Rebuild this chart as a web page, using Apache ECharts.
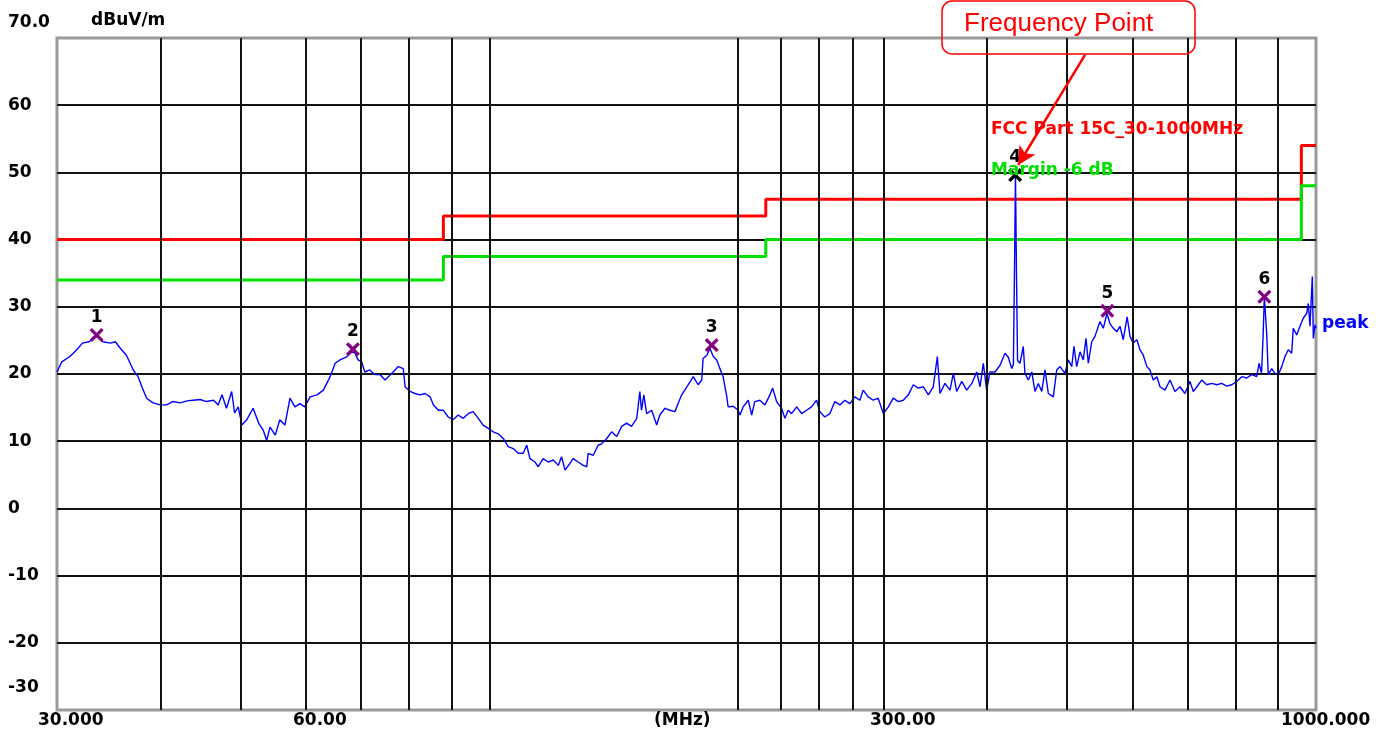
<!DOCTYPE html>
<html>
<head>
<meta charset="utf-8">
<title>FCC Part 15C radiated emission</title>
<script src="https://cdn.jsdelivr.net/npm/echarts@6/dist/echarts.min.js"></script>
<style>
    html, body { margin: 0; padding: 0; background: #fff; }
    #chart { width: 1386px; height: 737px; }
</style>
</head>
<body>
<div id="chart"></div>
<script>
// sweep (MHz) and peak level (dBuV/m)
var freqs = [
    30.0, 30.4, 31.1, 31.7, 32.2, 32.8, 33.5, 34.1, 34.8, 35.3, 35.8, 36.4, 37.1, 37.6, 38.0, 38.5, 39.2, 40.0, 40.7, 41.4,
    42.3, 43.1, 43.8, 44.7, 45.5, 46.4, 47.0, 47.5, 48.1, 48.8, 49.2, 49.7, 50.2, 50.9, 51.8, 52.6, 53.3, 53.8, 54.3, 55.1,
    55.8, 56.6, 57.4, 58.2, 59.0, 59.8, 60.7, 61.9, 63.0, 64.2, 65.1, 66.0, 67.3, 68.2, 68.8, 69.4, 70.1, 70.7, 71.7, 72.7,
    73.8, 74.8, 75.5, 76.5, 77.6, 78.7, 79.1, 80.2, 81.3, 82.4, 83.6, 84.8, 85.6, 86.8, 88.0, 89.2, 90.4, 91.7, 93.0, 94.3,
    95.6, 97.0, 98.3, 99.7, 101.1, 102.5, 104.0, 105.4, 106.9, 108.4, 109.9, 111.0, 112.0, 113.6, 114.6, 116.2, 117.8, 119.5, 121.2, 122.3,
    123.5, 125.2, 126.3, 128.1, 129.9, 131.2, 131.7, 133.6, 135.4, 136.8, 138.7, 140.6, 142.6, 144.6, 146.6, 148.6, 150.8, 152.1, 152.8, 153.8,
    155.0, 157.2, 159.4, 160.8, 163.1, 165.4, 167.7, 169.2, 170.9, 172.4, 174.0, 176.5, 178.9, 180.7, 181.4, 183.3, 184.9, 186.6, 188.4, 190.1,
    191.8, 193.8, 194.5, 197.3, 200.0, 201.0, 202.8, 205.7, 207.7, 209.5, 212.5, 215.5, 218.5, 220.2, 222.6, 225.7, 227.8, 229.9, 232.1, 235.4,
    238.7, 242.0, 245.4, 248.8, 251.1, 254.6, 258.2, 261.8, 265.5, 269.2, 273.0, 276.8, 280.7, 283.3, 287.3, 291.3, 295.4, 299.7, 303.9, 308.1,
    312.4, 316.8, 321.3, 325.8, 330.3, 335.0, 339.7, 344.4, 348.3, 350.9, 355.8, 360.8, 364.2, 367.6, 372.8, 378.0, 383.4, 388.7, 392.3, 395.9,
    399.6, 403.4, 409.0, 414.8, 420.5, 424.4, 428.6, 430.5, 431.8, 433.0, 434.2, 435.5, 438.5, 442.5, 444.6, 448.8, 453.1, 457.2, 461.4, 465.9,
    470.1, 474.5, 481.1, 485.7, 490.2, 497.0, 501.6, 506.5, 509.6, 513.5, 518.3, 523.0, 527.0, 530.4, 535.5, 540.3, 547.9, 553.0, 558.6, 563.4,
    568.6, 574.3, 579.3, 584.6, 591.0, 595.7, 601.1, 607.2, 612.5, 618.1, 624.4, 629.8, 635.6, 642.0, 647.6, 656.6, 665.9, 675.2, 684.7, 694.2,
    704.0, 710.5, 720.5, 727.4, 737.6, 748.0, 758.4, 769.1, 779.9, 790.8, 801.9, 813.2, 824.5, 836.1, 847.8, 853.4, 859.2, 863.1, 866.0, 871.6,
    875.5, 884.0, 892.0, 900.3, 909.0, 917.2, 925.7, 934.6, 938.6, 947.7, 956.4, 965.1, 974.4, 978.7, 983.4, 989.8, 992.6, 997.3, 1000
];
var peak = [
    20.3, 21.8, 22.6, 23.6, 24.6, 24.8, 25.6, 24.8, 24.6, 24.8, 23.8, 22.8, 20.6, 19.6, 18.1, 16.4, 15.7, 15.4, 15.4, 15.9,
    15.7, 16.0, 16.1, 16.2, 15.9, 16.1, 15.4, 16.9, 14.9, 17.4, 14.2, 15.1, 12.4, 13.2, 14.9, 12.7, 11.6, 10.1, 12.1, 10.9,
    13.2, 12.4, 16.4, 15.1, 15.6, 15.1, 16.6, 16.9, 17.6, 19.6, 21.6, 22.1, 22.6, 23.3, 23.1, 22.1, 21.8, 20.3, 20.6, 19.9,
    19.9, 19.1, 19.6, 20.3, 21.1, 20.8, 18.1, 17.4, 17.1, 16.9, 17.1, 16.6, 15.4, 14.6, 14.6, 13.6, 13.2, 13.9, 13.4, 14.1,
    14.4, 13.4, 12.4, 11.9, 11.4, 11.1, 10.4, 9.2, 8.9, 8.2, 8.2, 9.4, 7.4, 6.9, 6.2, 7.4, 6.9, 7.2, 6.4, 7.7,
    5.7, 6.7, 7.4, 6.9, 6.4, 6.2, 8.2, 7.9, 9.4, 9.6, 10.4, 11.4, 10.7, 12.2, 12.7, 12.2, 13.4, 17.4, 14.6, 16.9,
    14.1, 14.6, 12.4, 13.9, 14.9, 14.6, 14.4, 15.6, 16.9, 17.6, 18.4, 19.6, 18.4, 19.1, 22.3, 22.8, 23.8, 22.6, 22.1, 20.8,
    19.6, 16.6, 15.1, 15.2, 14.6, 13.9, 15.1, 16.1, 13.9, 15.9, 16.1, 15.4, 16.9, 17.9, 15.9, 14.9, 13.4, 14.6, 14.1, 15.1,
    14.1, 14.6, 15.1, 16.1, 14.4, 13.6, 14.1, 15.9, 15.4, 16.1, 15.6, 16.6, 16.1, 17.6, 16.6, 16.1, 16.4, 14.1, 15.1, 16.4,
    15.9, 16.1, 16.9, 18.4, 17.9, 18.1, 16.9, 18.1, 22.6, 17.1, 18.6, 17.6, 20.1, 17.4, 18.9, 17.6, 18.6, 20.3, 18.1, 21.6,
    17.6, 20.3, 20.3, 21.3, 23.1, 22.5, 20.8, 21.5, 35.3, 49.6, 35.3, 22.0, 21.6, 24.1, 20.1, 19.1, 20.3, 17.4, 18.6, 17.4,
    20.6, 17.1, 16.6, 20.6, 21.1, 20.1, 22.1, 21.1, 24.1, 21.1, 23.3, 22.1, 25.3, 21.6, 24.8, 25.6, 27.8, 26.8, 29.0, 27.5,
    26.8, 26.3, 27.1, 25.1, 28.5, 25.6, 24.6, 25.1, 23.6, 22.8, 21.1, 20.6, 19.1, 19.6, 18.1, 17.6, 19.1, 17.4, 18.1, 17.1,
    18.9, 17.4, 18.4, 19.1, 18.4, 18.6, 18.4, 18.6, 18.2, 18.4, 18.9, 19.6, 19.4, 19.9, 19.6, 21.6, 20.1, 25.8, 31.5, 26.1,
    19.9, 20.8, 20.1, 19.9, 21.1, 22.6, 23.6, 23.1, 26.8, 25.8, 27.1, 28.3, 29.0, 30.5, 27.1, 34.5, 25.3, 27.3, 26.8
];

// FCC Part 15C class B limit and the -6 dB margin line
var limitFreqs = [30, 88, 88, 216, 216, 960, 960, 1000];
var fccLimit = [40, 40, 43.5, 43.5, 46, 46, 54, 54];
var marginLimit = [34, 34, 37.5, 37.5, 40, 40, 48, 48];

// marked peaks
var markerFreqs = [33.5, 68.4, 185.8, 432.6, 559.3, 866.0];
var markerLevels = [25.8, 23.7, 24.3, 49.6, 29.4, 31.5];
var markerNames = ['1', '2', '3', '4', '5', '6'];

var gridFreqs = [40, 50, 60, 70, 80, 90, 100, 200, 225, 250, 275, 300, 400, 500, 600, 700, 800, 900];
var xTickLabels = ['30.000', '60.00', '(MHz)', '300.00', '1000.000'];
var xTickLeft = [38, 293, 654, 870, 1281];

var FONT = 'DejaVu Sans';

function zip(a, b) {
    var out = [];
    for (var i = 0; i < a.length; i++) {
        out.push([a[i], b[i]]);
    }
    return out;
}

var chart = echarts.init(document.getElementById('chart'));

var crossPath = 'path://M0,2L2,0L6,4L10,0L12,2L8,6L12,10L10,12L6,8L2,12L0,10L4,6Z';

var graphics = [
    {type: 'text', left: 8, top: 14, style: {text: '70.0', font: 'bold 17px ' + FONT, fill: '#000'}},
    {type: 'text', left: 91, top: 12, style: {text: 'dBuV/m', font: 'bold 17px ' + FONT, fill: '#000'}},
    {type: 'text', left: 8, top: 679, style: {text: '-30', font: 'bold 17px ' + FONT, fill: '#000'}},
    {type: 'text', left: 991, top: 121, z: 20, style: {text: 'FCC Part 15C_30-1000MHz', font: 'bold 17px ' + FONT, fill: '#ff0000'}},
    {type: 'text', left: 991, top: 162, z: 20, style: {text: 'Margin -6 dB', font: 'bold 17px ' + FONT, fill: '#00e000'}},
    {type: 'text', left: 1322, top: 315, z: 20, style: {text: 'peak', font: 'bold 17px ' + FONT, fill: '#0000ff'}},
    // callout box
    {
        type: 'rect', z: 20,
        shape: {x: 942, y: 1, width: 253, height: 53, r: 10},
        style: {fill: 'none', stroke: '#ff0000', lineWidth: 1.5}
    },
    {type: 'text', left: 964, top: 11, z: 20, style: {text: 'Frequency Point', font: '26px "Liberation Sans"', fill: '#ff0000'}}
];
xTickLabels.forEach(function (t, i) {
    graphics.push({type: 'text', left: xTickLeft[i], top: 712, style: {text: t, font: 'bold 17px ' + FONT, fill: '#000'}});
});

var option = {
    animation: false,
    backgroundColor: '#fff',
    grid: {
        left: 57, right: 70, top: 38, bottom: 27,
        show: true, borderColor: '#9a9a9a', borderWidth: 3, backgroundColor: '#fff'
    },
    xAxis: {
        type: 'log', logBase: 10, min: 30, max: 1000,
        axisLine: {show: false}, axisTick: {show: false},
        axisLabel: {show: false}, splitLine: {show: false}
    },
    yAxis: {
        type: 'value', min: -30, max: 70, interval: 10,
        axisLine: {show: false}, axisTick: {show: false},
        splitLine: {show: true, showMinLine: false, showMaxLine: false, lineStyle: {color: '#111', width: 2}},
        axisLabel: {
            align: 'left', margin: 49, color: '#000',
            fontFamily: FONT, fontWeight: 'bold', fontSize: 17,
            formatter: function (v) {
                return (v === 70 || v === -30) ? '' : String(v);
            }
        }
    },
    graphic: graphics,
    series: [
        {
            // vertical grid of the log axis
            type: 'line', data: [], silent: true, z: 1,
            markLine: {
                silent: true, symbol: ['none', 'none'], label: {show: false},
                lineStyle: {color: '#111', width: 2, type: 'solid'},
                data: gridFreqs.map(function (f) { return {xAxis: f}; })
            }
        },
        {
            type: 'line', name: 'FCC', data: zip(limitFreqs, fccLimit), symbol: 'none', z: 2,
            lineStyle: {color: '#ff0000', width: 3}
        },
        {
            type: 'line', name: 'Margin', data: zip(limitFreqs, marginLimit), symbol: 'none', z: 2,
            lineStyle: {color: '#00e000', width: 3}
        },
        {
            type: 'line', name: 'peak', data: zip(freqs, peak), symbol: 'none', z: 3,
            lineStyle: {color: '#0000ff', width: 1.4}
        },
        {
            type: 'scatter', data: zip(markerFreqs, markerLevels), z: 4,
            symbol: crossPath, symbolSize: 14,
            itemStyle: {
                opacity: 1,
                color: function (p) { return p.dataIndex === 3 ? '#000' : '#800080'; }
            },
            label: {
                show: true, position: 'top', distance: 2,
                fontFamily: FONT, fontWeight: 'bold', fontSize: 17, color: '#000',
                textBorderWidth: 0,
                formatter: function (p) { return markerNames[p.dataIndex]; }
            }
        },
        {
            // callout arrow pointing at marker 4
            type: 'line', data: [], silent: true, z: 21,
            markLine: {
                silent: true, symbol: ['none', 'arrow'], symbolSize: [14, 18],
                label: {show: false},
                lineStyle: {color: '#ff0000', width: 2.5, type: 'solid'},
                data: [[{coord: [525.6, 67.5]}, {coord: [436.2, 51.1]}]]
            }
        }
    ]
};

chart.setOption(option);
</script>
</body>
</html>
